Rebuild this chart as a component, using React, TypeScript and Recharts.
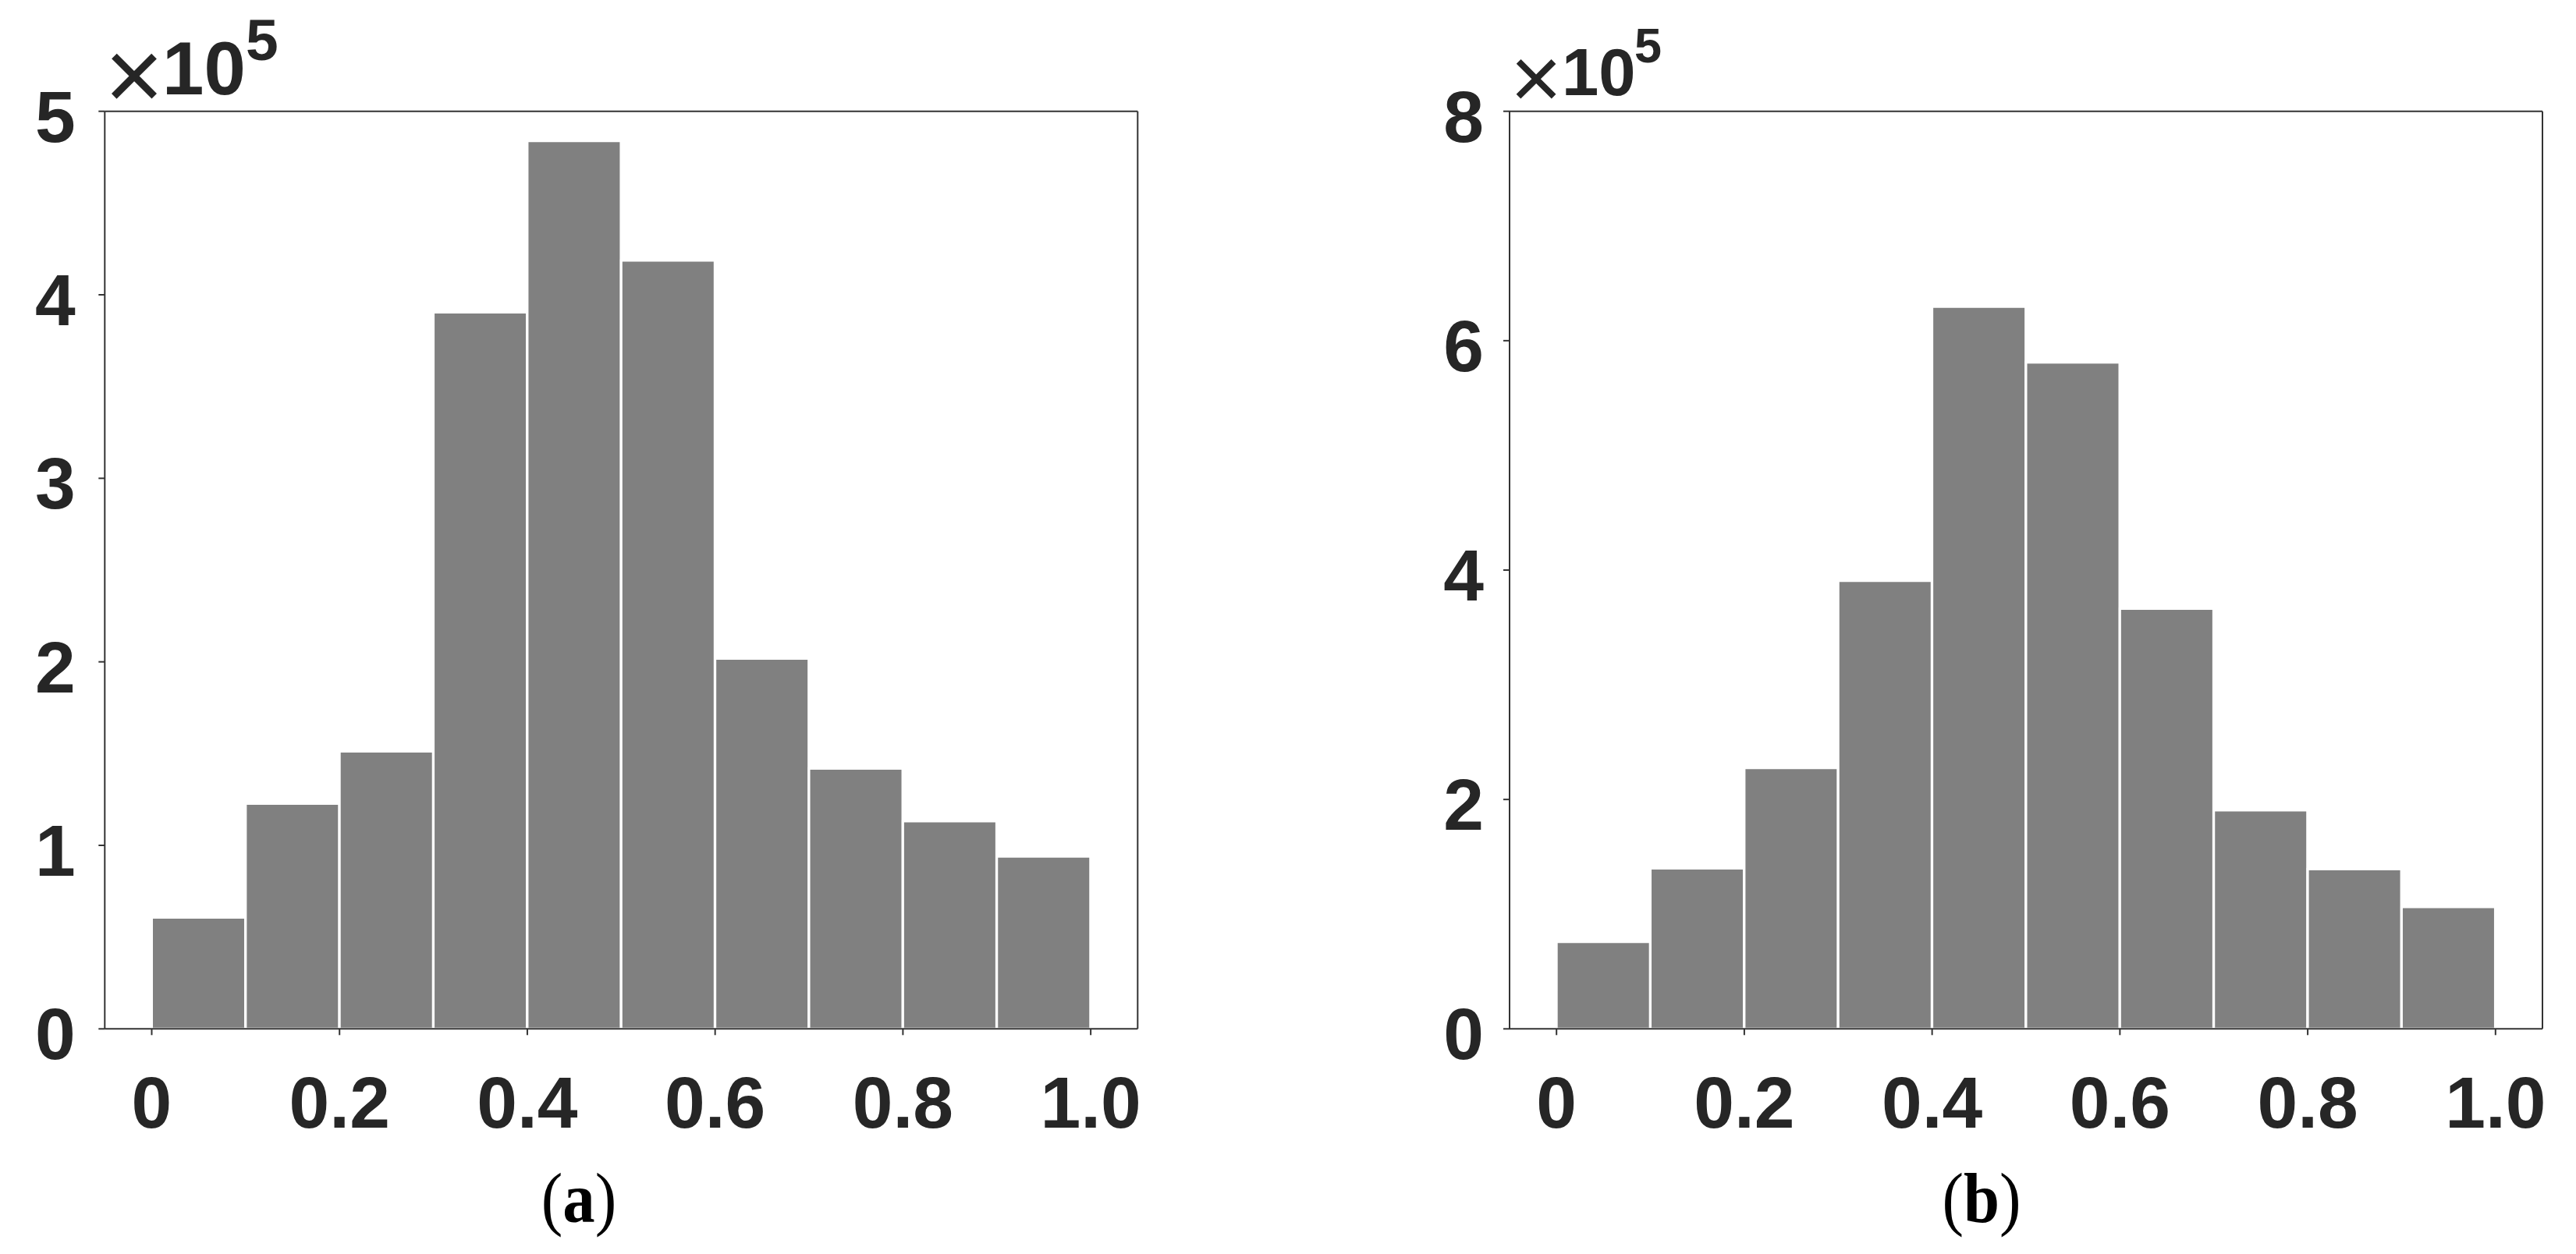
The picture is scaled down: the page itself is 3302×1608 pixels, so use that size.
import React from "react";
import { BarChart, Bar, XAxis, YAxis } from "recharts";

// ---- data ----
const binCenters = [0.05, 0.15, 0.25, 0.35, 0.45, 0.55, 0.65, 0.75, 0.85, 0.95];
const countsA = [60700, 122700, 151200, 390400, 483800, 418700, 201800, 141800, 113200, 93900];
const countsB = [75900, 140000, 227500, 390700, 629700, 581000, 366400, 190500, 139200, 106300];
const xTickValues = [0, 0.2, 0.4, 0.6, 0.8, 1.0];
const xTickLabels = ["0", "0.2", "0.4", "0.6", "0.8", "1.0"];
const yTicksA = [0, 100000, 200000, 300000, 400000, 500000];
const yTickLabelsA = ["0", "1", "2", "3", "4", "5"];
const yTicksB = [0, 200000, 400000, 600000, 800000];
const yTickLabelsB = ["0", "2", "4", "6", "8"];
const captions = ["a", "b"];

const dataA = binCenters.map((x, i) => ({ x, count: countsA[i] }));
const dataB = binCenters.map((x, i) => ({ x, count: countsB[i] }));

const TEXT = "#262626";
const AXIS = "#333333";
const SANS = "'Liberation Sans', Arial, sans-serif";
const SERIF = "'Liberation Serif', 'Times New Roman', serif";
const SQ = 1;
const FS = 93;

const makeXTick = (labels: string[]) => (p: any) => (
  <g transform={`translate(${p.x},${p.y})`}>
    <text
      x={0}
      y={99}
      textAnchor="middle"
      transform={`scale(${SQ},1)`}
      fontFamily={SANS}
      fontWeight="bold"
      fontSize={FS}
      fill={TEXT}
    >
      {labels[p.index]}
    </text>
  </g>
);

const makeYTick = (labels: string[]) => (p: any) => (
  <g transform={`translate(${p.x},${p.y})`}>
    <text
      x={0}
      y={39}
      textAnchor="end"
      transform={`scale(${SQ},1)`}
      fontFamily={SANS}
      fontWeight="bold"
      fontSize={FS}
      fill={TEXT}
    >
      {labels[p.index]}
    </text>
  </g>
);

type PanelProps = {
  left: number;
  width: number;
  data: { x: number; count: number }[];
  yMax: number;
  yTicks: number[];
  yLabels: string[];
  margins: { left: number; right: number };
  yTickMargin: number;
};

const Panel = ({ left, width, data, yMax, yTicks, yLabels, margins, yTickMargin }: PanelProps) => {
  const H = 1608;
  const topOff = 142.7;
  const bottomOff = H - 1319.3;
  const topAxisH = 10;
  const bottomAxisH = 120;
  const leftAxisW = 120;
  const rightAxisW = 10;
  return (
    <div style={{ position: "absolute", left, top: 0, width, height: H }}>
      <BarChart
        width={width}
        height={H}
        data={data}
        barCategoryGap={0}
        barGap={0}
        margin={{
          top: topOff - topAxisH,
          bottom: bottomOff - bottomAxisH,
          left: margins.left - leftAxisW,
          right: margins.right - rightAxisW,
        }}
      >
        <XAxis
          xAxisId="bottom"
          dataKey="x"
          type="number"
          domain={[-0.05, 1.05]}
          allowDataOverflow
          ticks={xTickValues}
          interval={0}
          height={bottomAxisH}
          tickSize={8}
          tickMargin={20}
          stroke={AXIS}
          strokeWidth={2}
          tick={makeXTick(xTickLabels)}
        />
        <XAxis
          xAxisId="top"
          orientation="top"
          dataKey="x"
          type="number"
          domain={[-0.05, 1.05]}
          allowDataOverflow
          ticks={xTickValues}
          interval={0}
          height={topAxisH}
          tickSize={8}
          stroke={AXIS}
          strokeWidth={2}
          tick={false}
        />
        <YAxis
          yAxisId="left"
          type="number"
          domain={[0, yMax]}
          allowDataOverflow
          ticks={yTicks}
          interval={0}
          width={leftAxisW}
          tickSize={8}
          tickMargin={yTickMargin}
          stroke={AXIS}
          strokeWidth={2}
          tick={makeYTick(yLabels)}
        />
        <YAxis
          yAxisId="right"
          orientation="right"
          type="number"
          domain={[0, yMax]}
          allowDataOverflow
          ticks={yTicks}
          interval={0}
          width={rightAxisW}
          tickSize={8}
          stroke={AXIS}
          strokeWidth={2}
          tick={false}
        />
        <Bar
          xAxisId="bottom"
          yAxisId="left"
          dataKey="count"
          fill="#808080"
          stroke="#ffffff"
          strokeWidth={3}
          isAnimationActive={false}
        />
      </BarChart>
    </div>
  );
};

const Multiplier = ({ xX, xBase, xSize, tenX, tenBase, tenSize, fiveX, fiveBase, fiveSize }: any) => (
  <g fill={TEXT} fontFamily={SANS}>
    <text x={xX} y={xBase} textAnchor="middle" fontSize={xSize} fontWeight="normal">×</text>
    <text x={tenX} y={tenBase} fontSize={tenSize} fontWeight="bold">10</text>
    <text x={fiveX} y={fiveBase} fontSize={fiveSize} fontWeight="bold">5</text>
  </g>
);

const Caption = ({ cx, base, letter }: { cx: number; base: number; letter: string }) => (
  <g transform={`translate(${cx},${base}) scale(0.92,1)`}>
    <text x={0} y={0} textAnchor="middle" fontFamily={SERIF} fontSize={90} fill="#000">
      (<tspan fontWeight="bold">{letter}</tspan>)
    </text>
  </g>
);

export default function App() {
  return (
    <div style={{ position: "absolute", left: 0, top: 0, width: 3302, height: 1608, background: "#fff" }}>
      <Panel
        left={0}
        width={1650}
        data={dataA}
        yMax={500000}
        yTicks={yTicksA}
        yLabels={yTickLabelsA}
        margins={{ left: 134.3, right: 1650 - 1458.3 }}
        yTickMargin={29.6}
      />
      <Panel
        left={1800}
        width={1502}
        data={dataB}
        yMax={800000}
        yTicks={yTicksB}
        yLabels={yTickLabelsB}
        margins={{ left: 135, right: 1502 - 1459 }}
        yTickMargin={25}
      />
      <svg
        width={3302}
        height={1608}
        style={{ position: "absolute", left: 0, top: 0, pointerEvents: "none" }}
      >
        <Multiplier xX={172} xBase={141} xSize={130} tenX={208} tenBase={121} tenSize={96} fiveX={315} fiveBase={77} fiveSize={75} />
        <Multiplier xX={1969} xBase={139} xSize={114} tenX={2002} tenBase={122} tenSize={85} fiveX={2095} fiveBase={80} fiveSize={63} />
        <Caption cx={742} base={1567} letter={captions[0]} />
        <Caption cx={2540} base={1567} letter={captions[1]} />
      </svg>
    </div>
  );
}
